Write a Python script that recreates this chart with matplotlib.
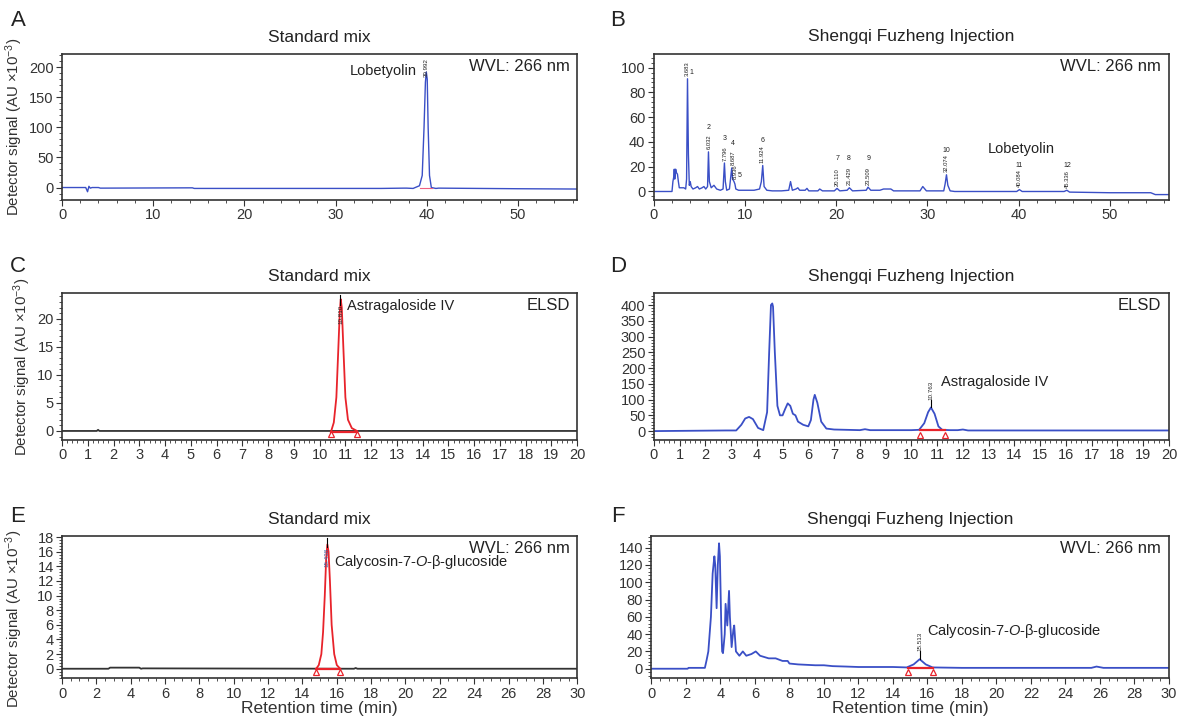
import numpy as np
import matplotlib
matplotlib.use("Agg")
import matplotlib.pyplot as plt
from matplotlib.ticker import MultipleLocator

plt.rcParams['font.family'] = ['Liberation Sans', 'DejaVu Sans']
plt.rcParams['mathtext.fontset'] = 'custom'
plt.rcParams['mathtext.rm'] = 'Liberation Sans'
plt.rcParams['mathtext.it'] = 'Liberation Sans:italic'

BLUE = '#3a4fc6'
RED = '#e8232b'
GREY = '#333333'

# ---- A: standard mix, UV 266 nm (time min, signal)
a_t = [0, 2.6, 2.8, 2.95, 3.1, 3.3, 4.0, 4.2, 14.3, 14.5, 35, 37.5, 37.8, 38.5, 39.2, 39.5,
       39.7, 39.85, 39.95, 40.05, 40.15, 40.3, 40.5, 41, 41.3, 50, 56.5]
a_y = [0, 0, -7, 2, -1, 0, 0, -1, -0.5, -1.5, -1.5, -1, -1, -1.5, 3, 20,
       100, 175, 192, 180, 100, 20, 0, -1.5, -1, -2, -2.5]

# ---- B: injection, UV 266 nm
b_t = [0, 2.0, 2.1, 2.2, 2.25, 2.3, 2.4, 2.5, 2.6, 2.7, 2.8, 3.0, 3.3, 3.5, 3.6, 3.7, 3.8, 3.9,
       4.0, 4.1, 4.3, 4.6, 4.8, 5.0, 5.3, 5.5, 5.7, 5.9, 6.0, 6.1, 6.3, 6.6, 6.9, 7.3, 7.6, 7.75,
       7.85, 8.0, 8.3, 8.55, 8.65, 8.8, 8.9, 9.0, 9.3, 10, 11, 11.6, 11.8, 11.95, 12.1, 12.4, 13,
       14, 14.8, 15.0, 15.2, 15.6, 15.8, 16.0, 16.6, 16.8, 17.0, 18, 18.2, 18.5, 19.8, 20.1, 20.4,
       21.2, 21.45, 21.8, 23.3, 23.5, 23.8, 24.8, 25.2, 26.0, 26.3, 29.2, 29.5, 29.9, 31.8, 31.95,
       32.1, 32.25, 32.5, 33, 35, 39.8, 40.1, 40.4, 42.5, 45.0, 45.3, 45.6, 50, 54.5, 55, 56.5]
b_y = [0, 0, 8, 12, 18, 10, 18, 15, 14, 8, 3, 3, 3, 2, 10, 91, 30, 5,
       8, 4, 2, 3, 4, 2, 3, 4, 2, 4, 32, 8, 3, 5, 2, 1, 2, 23,
       8, 1, 2, 19, 10, 8, 6, 2, 1, 1, 1, 2, 8, 21, 4, 1, 0.5,
       0.5, 1, 8, 1, 2, 3, 1, 1, 2.5, 0.5, 0.5, 2, 0.5, 0.5, 2.5, 0.5,
       1, 3, 0.5, 1, 3.5, 1, 1, 2, 2, 0.5, 0.5, 4, 0.5, 0.5, 6,
       13.5, 5, 0.5, 0, 0, 0, 1.5, 0, 0, 0, 1, -0.5, -1, -1, -2.5, -2.5]
b_peak_no = ['1', '2', '3', '4', '5', '6', '7', '8', '9', '10', '11', '12']
b_peak_rt = [3.683, 6.032, 7.796, 8.687, 8.936, 11.924, 20.110, 21.429, 23.509, 32.074, 40.084, 45.336]
b_apex = [91, 32, 23, 19, 8, 21, 2.5, 3, 3.5, 13.5, 1.5, 1]

# ---- C: standard mix, ELSD
c_base_t = [0, 1.35, 1.4, 1.45, 20]
c_base_y = [0, 0, 0.2, 0, 0]
c_t = [10.45, 10.55, 10.65, 10.72, 10.78, 10.82, 10.86, 10.92, 11.0, 11.1, 11.25, 11.45]
c_y = [0, 1.5, 6, 14, 21, 23.5, 22, 15, 6, 2, 0.5, 0]
c_rt = 10.810

# ---- D: injection, ELSD
d_t = [0, 2.8, 3.2, 3.4, 3.55, 3.7, 3.85, 4.05, 4.25, 4.4, 4.48, 4.55, 4.6, 4.63, 4.7, 4.8, 4.9,
       5.0, 5.1, 5.2, 5.3, 5.4, 5.5, 5.6, 5.8, 6.0, 6.1, 6.2, 6.25, 6.35, 6.5, 6.7, 7.0, 7.5,
       8.0, 8.2, 8.4, 9.0, 10.0, 10.3, 10.5, 10.65, 10.76, 10.9, 11.05, 11.2, 11.5, 11.8, 12.0,
       12.2, 20]
d_y = [0, 2, 2, 20, 40, 45, 38, 10, 3, 60, 250, 400, 405, 395, 250, 80, 50,
       50, 70, 88, 80, 55, 50, 30, 20, 15, 35, 100, 115, 90, 30, 8, 5, 4,
       3, 6, 3, 3, 3, 4, 25, 60, 75, 55, 15, 4, 3, 3, 5,
       2, 2]
d_rt = 10.763

# ---- E: standard mix, UV 266 nm
e_base_t = [0, 2.7, 2.8, 4.5, 4.6, 4.7, 17.0, 17.1, 17.2, 30]
e_base_y = [0, 0, 0.15, 0.15, 0, 0.05, 0, 0.1, 0, 0]
e_t = [14.8, 14.95, 15.1, 15.2, 15.3, 15.38, 15.45, 15.52, 15.6, 15.7, 15.85, 16.0, 16.2]
e_y = [0, 0.5, 2, 5, 10, 15, 17, 16, 12, 6, 2, 0.5, 0]
e_rt = 15.438

# ---- F: injection, UV 266 nm
f_t = [0, 2.1, 2.15, 3.1, 3.2, 3.3, 3.45, 3.55, 3.65, 3.7, 3.78, 3.85, 3.92, 3.97, 4.0, 4.05, 4.1,
       4.15, 4.25, 4.3, 4.4, 4.5, 4.55, 4.65, 4.75, 4.8, 4.9, 5.1, 5.3, 5.5, 5.8, 6.05, 6.3, 6.8,
       7.2, 7.6, 7.9, 8.0, 8.5, 9.5, 10, 10.5, 11.3, 12, 14, 14.8, 15.2, 15.55, 15.9, 16.3, 18,
       25.5, 25.8, 26.2, 30]
f_y = [0, 0, 1, 1, 10, 20, 60, 110, 130, 120, 70, 120, 145, 130, 100, 50, 20,
       18, 40, 75, 50, 90, 60, 25, 45, 50, 20, 15, 20, 15, 17, 20, 15, 12,
       12, 9, 9, 6, 5, 4, 4, 3, 2.5, 2, 2, 1.5, 5, 11, 5, 1.5, 1,
       1, 2.5, 1, 1]
f_rt = 15.513

W, H = 1179, 720
fig = plt.figure(figsize=(W / 100, H / 100), dpi=100)


def panel(rect, letter, letter_xy, title, xmax, xmaj, xmin, ylim, ymaj, corner,
          ylabel=False, xlabel=False):
    ax = fig.add_axes(rect)
    ax.set_xlim(0, xmax)
    ax.set_ylim(*ylim)
    ax.xaxis.set_major_locator(MultipleLocator(xmaj))
    ax.xaxis.set_minor_locator(MultipleLocator(xmin))
    ax.yaxis.set_major_locator(MultipleLocator(ymaj))
    ax.yaxis.set_minor_locator(MultipleLocator(ymaj / 5))
    ax.tick_params(which='major', length=4, width=0.8, labelsize=10.5, colors=GREY, pad=2)
    ax.tick_params(which='minor', length=2, width=0.6, colors=GREY)
    for s in ax.spines.values():
        s.set_color(GREY)
        s.set_linewidth(1.2)
    ax.set_title(title, fontsize=12.5, color='#222222', pad=9)
    ax.text(0.985, 0.915, corner, transform=ax.transAxes, ha='right', va='center',
            fontsize=12, color='#222222')
    fig.text(letter_xy[0], H - letter_xy[1], letter, fontsize=16, color='#222222',
             ha='center', va='center', transform=None)
    if ylabel:
        ax.set_ylabel('Detector signal (AU ×10$^{-3}$)', fontsize=10.8, color='#333333',
                      labelpad=3)
    if xlabel:
        ax.set_xlabel('Retention time (min)', fontsize=12.5, color='#333333', labelpad=0)
    return ax


def mark_peak(ax, x, y0, y1, rt, base, tri_y, ty, va='bottom', tcolor='#222222'):
    # integration baseline with triangle delimiters, apex marker and retention time
    ax.plot(base, [tri_y[1], tri_y[1]], color=RED, lw=1.6)
    ax.plot(base, [tri_y[0], tri_y[0]], ls='none', marker='^', ms=4.5, mfc='white',
            mec=RED, mew=0.9)
    ax.plot([x, x], [y0, y1], color='black', lw=0.8)
    ax.text(x, ty, '%.3f' % rt, rotation=90, fontsize=4.5, ha='center', va=va, color=tcolor)


top_h = 0.203
# A
axA = panel([0.0526, 0.722, 0.437, top_h], 'A', (18, 20), 'Standard mix', 56.5, 10, 2,
            (-21, 222), 50, 'WVL: 266 nm', ylabel=True)
axA.plot(a_t, a_y, color=BLUE, lw=1.0)
axA.plot([39.3, 40.6], [-1.5, -1.5], color='#f06080', lw=0.8)
axA.text(39.95, 183, '39.992', rotation=90, fontsize=4.5, ha='center', va='bottom', color='#222222')
axA.text(38.9, 193, 'Lobetyolin', fontsize=10.5, ha='right', va='center', color='#222222')

# B
axB = panel([0.5545, 0.722, 0.437, top_h], 'B', (618, 20), 'Shengqi Fuzheng Injection', 56.5,
            10, 2, (-7, 111), 20, 'WVL: 266 nm')
axB.plot(b_t, b_y, color=BLUE, lw=1.0)
for no, rt, h in zip(b_peak_no, b_peak_rt, b_apex):
    axB.text(rt, h + 2, '%.3f' % rt, rotation=90, fontsize=4.2, ha='center', va='bottom',
             color='#222222')
    off = 0.45 if no in ('1', '5') else 0
    ny = h + 17 if no not in ('1', '5') else h + 2
    if no in ('7', '8', '9'):
        ny = 24
    axB.text(rt + off, ny, no, fontsize=5, ha='center', va='bottom', color='#222222')
axB.text(36.6, 34, 'Lobetyolin', fontsize=10.5, ha='left', va='center', color='#222222')

# C
axC = panel([0.0526, 0.389, 0.437, 0.204], 'C', (18, 267), 'Standard mix', 20, 1, 0.2,
            (-1.6, 24.6), 5, 'ELSD', ylabel=True)
axC.plot(c_base_t, c_base_y, color=GREY, lw=1.3)
axC.plot(c_t, c_y, color=RED, lw=1.3)
mark_peak(axC, 10.81, 22.5, 24.3, c_rt, [10.45, 11.45], [-0.55, -0.1], 22.6, va='top')
axC.text(11.05, 22.2, 'Astragaloside IV', fontsize=10.5, ha='left', va='center', color='#222222')

# D
axD = panel([0.5545, 0.389, 0.437, 0.204], 'D', (618, 267), 'Shengqi Fuzheng Injection', 20,
            1, 0.2, (-28, 438), 50, 'ELSD')
axD.plot(d_t, d_y, color=BLUE, lw=1.3)
mark_peak(axD, 10.76, 75, 100, d_rt, [10.35, 11.3], [-12, 3], 100)
axD.text(11.15, 155, 'Astragaloside IV', fontsize=10.5, ha='left', va='center', color='#222222')

# E
axE = panel([0.0526, 0.058, 0.437, 0.197], 'E', (18, 516), 'Standard mix', 30, 2, 0.5,
            (-1.3, 18.1), 2, 'WVL: 266 nm', ylabel=True, xlabel=True)
axE.yaxis.set_label_coords(-0.072, 0.42)
axE.plot(e_base_t, e_base_y, color=GREY, lw=1.3)
axE.plot(e_t, e_y, color=RED, lw=1.3)
mark_peak(axE, 15.45, 16.6, 17.9, e_rt, [14.8, 16.2], [-0.45, 0], 16.6, va='top',
          tcolor='#3a5fa0')
axE.text(15.85, 14.6, 'Calycosin-7-$\\it{O}$-β-glucoside', fontsize=10.5, ha='left', va='center',
         color='#222222')

# F
axF = panel([0.5525, 0.058, 0.439, 0.197], 'F', (618, 516), 'Shengqi Fuzheng Injection', 30,
            2, 0.5, (-11, 153), 20, 'WVL: 266 nm', xlabel=True)
axF.plot(f_t, f_y, color=BLUE, lw=1.3)
mark_peak(axF, 15.55, 11, 20, f_rt, [14.9, 16.3], [-4, 1], 20)
axF.text(16.0, 44, 'Calycosin-7-$\\it{O}$-β-glucoside', fontsize=10.5, ha='left', va='center',
         color='#222222')

fig.savefig('out.png', dpi=100)
